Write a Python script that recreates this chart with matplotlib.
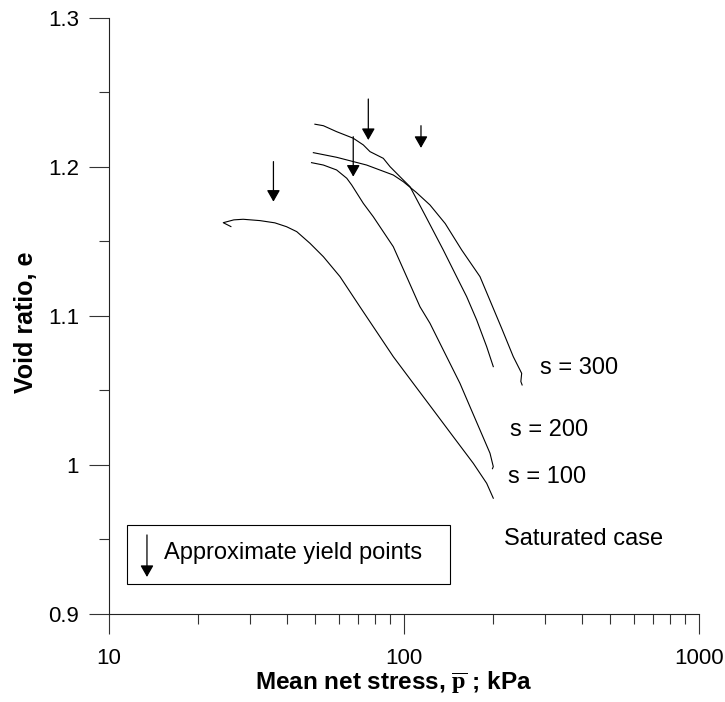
import matplotlib
matplotlib.use('Agg')
import matplotlib.pyplot as plt
from matplotlib.patches import Rectangle
from matplotlib.ticker import FixedLocator, NullFormatter

plt.rcParams['font.family'] = ['Liberation Sans', 'DejaVu Sans']
plt.rcParams['mathtext.fontset'] = 'custom'
plt.rcParams['mathtext.rm'] = 'Liberation Serif'
plt.rcParams['mathtext.bf'] = 'Liberation Serif:bold'

# ------ data -----
# saturated case
p_sat = [25.9, 24.4, 26.5, 28.5, 32.5, 36.5, 40.0, 43.3, 48.0, 53.3, 60.7, 70.9,
         82.9, 92.0, 107.5, 125.7, 146.9, 171.8, 190.7, 200.8]
e_sat = [1.1600, 1.1626, 1.1645, 1.1649, 1.1640, 1.1625, 1.1599, 1.1566, 1.1488,
         1.1398, 1.1264, 1.1062, 1.0861, 1.0727, 1.0548, 1.0369, 1.0190, 1.0011,
         0.9877, 0.9777]

# curve starting at e = 1.203
p_c = [48.6, 53.3, 59.1, 64.0, 66.5, 72.8, 78.7, 82.9, 92.0, 102.1, 113.3, 122.5,
       135.9, 154.8, 167.4, 181.0, 195.7, 200.8, 199.5]
e_c = [1.2029, 1.2013, 1.1980, 1.1924, 1.1879, 1.1756, 1.1666, 1.1599, 1.1465,
       1.1264, 1.1062, 1.0951, 1.0772, 1.0548, 1.0391, 1.0235, 1.0079, 0.9989, 0.9975]

# curve starting at e = 1.229
p_a = [49.9, 53.3, 59.1, 67.3, 72.8, 76.7, 85.1, 89.7, 96.9, 104.8, 117.8, 135.9,
       154.8, 163.1, 176.4, 190.7, 200.8]
e_a = [1.2287, 1.2277, 1.2237, 1.2193, 1.2148, 1.2103, 1.2058, 1.2002, 1.1935,
       1.1868, 1.1678, 1.1443, 1.1219, 1.1130, 1.0973, 1.0794, 1.0660]

# curve starting at e = 1.210
p_b = [49.3, 59.1, 74.7, 92.0, 99.5, 110.0, 122.5, 138.0, 156.9, 181.0, 214.4,
       234.7, 250.6, 249.0, 251.5]
e_b = [1.2096, 1.2065, 1.2013, 1.1946, 1.1901, 1.1830, 1.1745, 1.1620, 1.1443,
       1.1264, 1.0917, 1.0727, 1.0615, 1.0560, 1.0537]

# approximate yield points (arrows)
yield_p = [36.1, 75.7, 67.3, 114.2]
yield_top = [1.2036, 1.2456, 1.2203, 1.2277]
yield_tip = [1.1767, 1.2181, 1.1935, 1.2128]

curve_labels = ['s = 300', 's = 200', 's = 100', 'Saturated case']
label_p = [289, 228.8, 225.8, 219]
label_e = [1.0651, 1.0235, 0.9922, 0.9505]

y_ticks = [0.9, 1.0, 1.1, 1.2, 1.3]
y_tick_labels = ['0.9', '1', '1.1', '1.2', '1.3']
x_ticks = [10, 100, 1000]
x_tick_labels = ['10', '100', '1000']
# ------------------------------------

fig = plt.figure(figsize=(7.25, 7.02), dpi=100)
ax = fig.add_axes([0.1503, 0.1254, 0.8138, 0.849])

for p, e in [(p_sat, e_sat), (p_c, e_c), (p_a, e_a), (p_b, e_b)]:
    ax.plot(p, e, color='black', lw=0.8)

for p, top, tip in zip(yield_p, yield_top, yield_tip):
    ax.annotate('', xy=(p, tip), xytext=(p, top),
                arrowprops=dict(arrowstyle='-|>,head_width=0.4,head_length=0.7',
                                color='black', lw=0.9, shrinkA=0, shrinkB=0,
                                mutation_scale=10))

for txt, p, e in zip(curve_labels, label_p, label_e):
    ax.text(p, e, txt, fontsize=17, ha='left', va='center')

# legend box
ax.add_patch(Rectangle((0.0305, 0.0503), 0.5475, 0.099, transform=ax.transAxes,
                       facecolor='white', edgecolor='black', lw=0.8, zorder=3))
ax.annotate('', xy=(0.0644, 0.0621), xytext=(0.0644, 0.1326),
            xycoords='axes fraction', textcoords='axes fraction',
            arrowprops=dict(arrowstyle='-|>,head_width=0.4,head_length=0.7',
                            color='black', lw=0.9, shrinkA=0, shrinkB=0,
                            mutation_scale=10), zorder=4)
ax.text(0.0932, 0.1023, 'Approximate yield points', transform=ax.transAxes,
        fontsize=17, ha='left', va='center', zorder=4)

ax.set_xscale('log')
ax.set_xlim(10, 1000)
ax.set_ylim(0.9, 1.3)
ax.set_xticks(x_ticks)
ax.set_xticklabels(x_tick_labels)
ax.xaxis.set_minor_locator(FixedLocator([v * d for d in (10, 100) for v in range(2, 10)]))
ax.xaxis.set_minor_formatter(NullFormatter())
ax.set_yticks(y_ticks)
ax.set_yticklabels(y_tick_labels)
ax.yaxis.set_minor_locator(FixedLocator([0.95, 1.05, 1.15, 1.25]))

ax.tick_params(which='major', direction='out', length=14.4, width=0.8,
               labelsize=16, color='#333333')
ax.tick_params(which='minor', direction='out', length=7.2, width=0.8, color='#333333')
ax.tick_params(axis='x', which='major', pad=10)
ax.tick_params(axis='y', which='major', pad=7)

for side in ['top', 'right']:
    ax.spines[side].set_visible(False)
for side in ['left', 'bottom']:
    ax.spines[side].set_linewidth(0.8)
    ax.spines[side].set_color('#222222')

ax.set_xlabel(r'Mean net stress, $\mathbf{\overline{p}}$ ; kPa', fontsize=17.5, fontweight='bold')
ax.xaxis.set_label_coords(0.483, -0.1158)
ax.xaxis.label.set_va('center')
ax.set_ylabel('Void ratio, e', fontsize=18, fontweight='bold')
ax.yaxis.set_label_coords(-0.1407, 0.49)
ax.yaxis.label.set_va('center')

fig.savefig('out.png', dpi=100)
